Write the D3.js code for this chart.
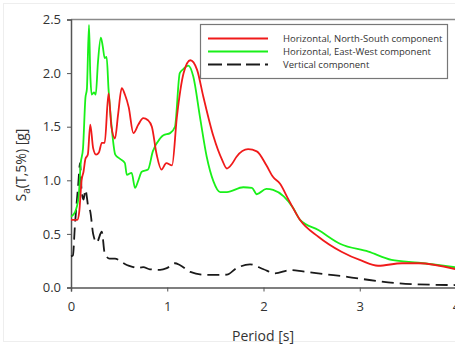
<!DOCTYPE html>
<html>
<head>
<meta charset="utf-8">
<script src="https://cdn.jsdelivr.net/npm/d3@7"></script>
<style>
  body { margin: 0; background: #fff; }
  svg { display: block; font-family: "Open Sans", sans-serif; }
</style>
</head>
<body>
<div id="chart"></div>
<script>
// spectral acceleration
var nsPeriods = [0, 0.065, 0.085, 0.11, 0.13, 0.15, 0.175, 0.2, 0.23, 0.26, 0.29, 0.32, 0.35, 0.39, 0.42, 0.457, 0.49, 0.527, 0.56, 0.6, 0.648, 0.7, 0.75, 0.8, 0.84, 0.89, 0.94, 0.99, 1.05, 1.1, 1.17, 1.24, 1.31, 1.375, 1.48, 1.57, 1.62, 1.67, 1.72, 1.84, 1.93, 2.03, 2.1, 2.17, 2.26, 2.38, 2.57, 2.81, 3.02, 3.19, 3.44, 3.61, 4.0];
var nsValues = [0.63, 0.63, 0.7, 1.0, 1.08, 1.2, 1.24, 1.52, 1.3, 1.24, 1.26, 1.35, 1.35, 1.81, 1.5, 1.39, 1.62, 1.86, 1.8, 1.68, 1.44, 1.52, 1.58, 1.56, 1.5, 1.24, 1.10, 1.16, 1.14, 1.59, 2.0, 2.12, 2.03, 1.78, 1.41, 1.19, 1.11, 1.15, 1.22, 1.29, 1.27, 1.14, 1.03, 0.97, 0.82, 0.63, 0.474, 0.334, 0.25, 0.203, 0.226, 0.226, 0.17];

var ewPeriods = [0, 0.04, 0.08, 0.1, 0.125, 0.15, 0.165, 0.187, 0.2, 0.215, 0.24, 0.257, 0.28, 0.31, 0.33, 0.35, 0.37, 0.39, 0.42, 0.46, 0.51, 0.56, 0.58, 0.63, 0.665, 0.7, 0.735, 0.8, 0.85, 0.925, 0.96, 1.03, 1.08, 1.13, 1.17, 1.22, 1.27, 1.34, 1.41, 1.48, 1.55, 1.62, 1.79, 1.88, 1.93, 2.03, 2.1, 2.21, 2.31, 2.38, 2.57, 2.8, 3.09, 3.33, 3.61, 4.0];
var ewValues = [0.66, 0.7, 0.85, 1.15, 1.3, 1.77, 1.85, 2.45, 2.0, 1.8, 1.82, 1.8, 2.1, 2.33, 2.25, 2.14, 2.15, 1.85, 1.52, 1.24, 1.2, 1.16, 1.05, 1.07, 0.93, 1.0, 1.08, 1.1, 1.27, 1.39, 1.42, 1.44, 1.5, 2.0, 2.04, 2.07, 1.97, 1.59, 1.22, 0.99, 0.89, 0.89, 0.935, 0.93, 0.87, 0.92, 0.91, 0.85, 0.74, 0.63, 0.536, 0.406, 0.334, 0.257, 0.231, 0.188];

var vPeriods = [0, 0.02, 0.04, 0.076, 0.094, 0.11, 0.13, 0.15, 0.18, 0.2, 0.23, 0.267, 0.32, 0.35, 0.4, 0.457, 0.52, 0.58, 0.65, 0.68, 0.75, 0.82, 0.925, 0.995, 1.08, 1.13, 1.24, 1.41, 1.55, 1.62, 1.72, 1.86, 2.0, 2.12, 2.28, 2.41, 2.62, 2.87, 3.1, 3.39, 3.73, 4.0];
var vValues = [0.29, 0.3, 0.57, 0.97, 1.16, 0.91, 0.82, 0.91, 0.75, 0.71, 0.5, 0.42, 0.52, 0.32, 0.27, 0.27, 0.24, 0.21, 0.19, 0.18, 0.19, 0.17, 0.165, 0.18, 0.226, 0.21, 0.145, 0.117, 0.117, 0.12, 0.18, 0.216, 0.17, 0.132, 0.163, 0.15, 0.126, 0.1, 0.07, 0.04, 0.026, 0.023];

var seriesNames = ["Horizontal, North-South component", "Horizontal, East-West component", "Vertical component"];
var xTicks = [0, 1, 2, 3, 4];
var yTicks = [0, 0.5, 1.0, 1.5, 2.0, 2.5];

var W = 455, H = 345;
var margin = { left: 71, top: 19.5, right: -1, bottom: 57.5 };

var svg = d3.select("#chart").append("svg")
  .attr("width", W)
  .attr("height", H);

// faint frame of the original figure
svg.append("rect")
  .attr("x", 3.5).attr("y", 3.5)
  .attr("width", W).attr("height", H - 7)
  .attr("fill", "none")
  .attr("stroke", "#eeeeee");

var x = d3.scaleLinear().domain([0, 4]).range([margin.left, W - margin.right]);
var y = d3.scaleLinear().domain([0, 2.5]).range([H - margin.bottom, margin.top]);

// top frame line
svg.append("line")
  .attr("x1", margin.left).attr("x2", W)
  .attr("y1", y(2.5)).attr("y2", y(2.5))
  .attr("stroke", "#8a8a8a")
  .attr("stroke-width", 1.5);

var xAxis = svg.append("g")
  .attr("transform", "translate(0," + y(0) + ")")
  .call(d3.axisBottom(x).tickValues(xTicks).tickFormat(d3.format("d")).tickSize(4).tickPadding(10));

var yAxis = svg.append("g")
  .attr("transform", "translate(" + margin.left + ",0)")
  .call(d3.axisLeft(y).tickValues(yTicks).tickFormat(d3.format(".1f")).tickSize(4).tickPadding(6));

[xAxis, yAxis].forEach(function (g) {
  g.select(".domain").attr("stroke", "#555").attr("stroke-width", 1.5);
  g.selectAll(".tick line").attr("stroke", "#555");
  g.selectAll("text")
    .attr("fill", "#333")
    .style("font-size", "13px")
    .style("font-family", "'Open Sans', sans-serif");
});

var line = d3.line()
  .x(function (d) { return x(d[0]); })
  .y(function (d) { return y(d[1]); })
  .curve(d3.curveMonotoneX);

var plot = svg.append("g");

var series = [
  { per: vPeriods, val: vValues, color: "#1a1a1a", dash: "12,6" },
  { per: ewPeriods, val: ewValues, color: "#19f019", dash: null },
  { per: nsPeriods, val: nsValues, color: "#f01a1a", dash: null }
];

series.forEach(function (s) {
  plot.append("path")
    .datum(d3.zip(s.per, s.val))
    .attr("fill", "none")
    .attr("stroke", s.color)
    .attr("stroke-width", 1.8)
    .attr("stroke-dasharray", s.dash)
    .attr("d", line);
});

// legend
var lg = svg.append("g");
lg.append("rect")
  .attr("x", 200.5).attr("y", 24.5)
  .attr("width", 247).attr("height", 54)
  .attr("fill", "#fff")
  .attr("stroke", "#777")
  .attr("stroke-width", 1.2);

var legendColors = ["#f01a1a", "#19f019", "#1a1a1a"];
seriesNames.forEach(function (name, i) {
  var ly = 38.5 + i * 13;
  lg.append("line")
    .attr("x1", 208).attr("x2", 268)
    .attr("y1", ly).attr("y2", ly)
    .attr("stroke", legendColors[i])
    .attr("stroke-width", 1.8)
    .attr("stroke-dasharray", i === 2 ? "14,5" : null);
  lg.append("text")
    .attr("x", 283).attr("y", ly + 3.5)
    .attr("fill", "#333")
    .style("font-size", "9.5px")
    .text(name);
});

// axis titles
svg.append("text")
  .attr("x", 263).attr("y", 341)
  .attr("text-anchor", "middle")
  .attr("fill", "#333")
  .style("font-size", "14px")
  .text("Period [s]");

var yt = svg.append("text")
  .attr("transform", "translate(26,165) rotate(-90)")
  .attr("text-anchor", "middle")
  .attr("fill", "#333")
  .style("font-size", "14px");
yt.append("tspan").text("S");
yt.append("tspan").attr("dy", 4).style("font-size", "10px").text("a");
yt.append("tspan").attr("dy", -4).text("(T,5%) [g]");
</script>
</body>
</html>
